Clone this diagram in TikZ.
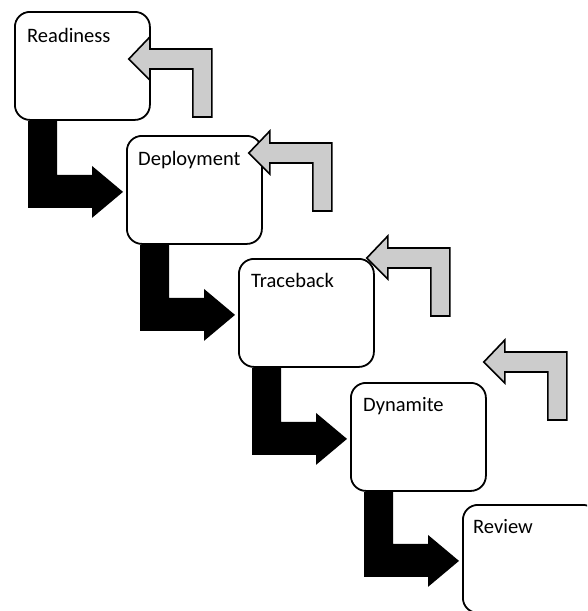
\documentclass[tikz,border=0pt]{standalone}
\usepackage{fontspec}
\setmainfont{Carlito}
\usetikzlibrary{calc}

\tikzset{
    stage/.style={draw, line width=1.8pt, rounded corners=15pt, fill=white,
        minimum width=135pt, minimum height=108pt, inner sep=0pt, anchor=north west},
    stagename/.style={anchor=base west, inner sep=0pt, font=\fontsize{20.5pt}{24pt}\selectfont},
    push/.style={fill=black},
    feedback/.style={draw, line width=1.6pt, fill=gray!40, line join=miter},
}

\begin{document}
\begin{tikzpicture}[x=1pt, y=-1pt]
    \useasboundingbox (0,0) rectangle (587,611);
    \clip (0,0) rectangle (587,611);
    \node[stage] (ready) at (14,11) {};
    \node[stage] (deploy) at (126,135) {};
    \node[stage] (trace) at (238,258) {};
    \node[stage] (dyna) at (350,382) {};
    \node[stage] (review) at (462,504) {};
    \node[stagename] (readyname) at (27,42) {Readiness};
    \node[stagename] (deployname) at (138,165) {Deployment};
    \node[stagename] (tracename) at (251,287) {Traceback};
    \node[stagename] (dynaname) at (363,411) {Dynamite};
    \node[stagename] (reviewname) at (473,533) {Review};
    % black steps down
    \fill[push] ($(ready.south west)+(14,0)$) coordinate (s1) -- ++(29,0) |- ($(deploy.west)+(-34,-15)$) -- ++(0,-9) -- ($(deploy.west)+(-3,2)$) -- ++(-31,26) -- ++(0,-10) -| (s1) -- cycle;
    \fill[push] ($(deploy.south west)+(14,0)$) coordinate (s2) -- ++(29,0) |- ($(trace.west)+(-34,-15)$) -- ++(0,-9) -- ($(trace.west)+(-3,2)$) -- ++(-31,26) -- ++(0,-10) -| (s2) -- cycle;
    \fill[push] ($(trace.south west)+(14,0)$) coordinate (s3) -- ++(29,0) |- ($(dyna.west)+(-34,-15)$) -- ++(0,-9) -- ($(dyna.west)+(-3,2)$) -- ++(-31,26) -- ++(0,-10) -| (s3) -- cycle;
    \fill[push] ($(dyna.south west)+(14,0)$) coordinate (s4) -- ++(29,0) |- ($(review.west)+(-34,-15)$) -- ++(0,-9) -- ($(review.west)+(-3,2)$) -- ++(-31,26) -- ++(0,-10) -| (s4) -- cycle;
    % grey arrows back
    \draw[feedback] ($(ready.north east)+(-22,48)$) -- ++(21,-22) -- ++(0,12) -- ++(62,0) -- ++(0,68) -- ++(-19,0) -- ++(0,-48) -- ++(-43,0) -- ++(0,11) -- cycle;
    \draw[feedback] ($(deploy.north east)+(-14,18)$) -- ++(21,-22) -- ++(0,12) -- ++(62,0) -- ++(0,68) -- ++(-19,0) -- ++(0,-48) -- ++(-43,0) -- ++(0,11) -- cycle;
    \draw[feedback] ($(trace.north east)+(-8,0)$) -- ++(21,-22) -- ++(0,12) -- ++(62,0) -- ++(0,68) -- ++(-19,0) -- ++(0,-48) -- ++(-43,0) -- ++(0,11) -- cycle;
    \draw[feedback] ($(dyna.north east)+(-3,-20)$) -- ++(21,-22) -- ++(0,12) -- ++(62,0) -- ++(0,68) -- ++(-19,0) -- ++(0,-48) -- ++(-43,0) -- ++(0,11) -- cycle;
\end{tikzpicture}
\end{document}
